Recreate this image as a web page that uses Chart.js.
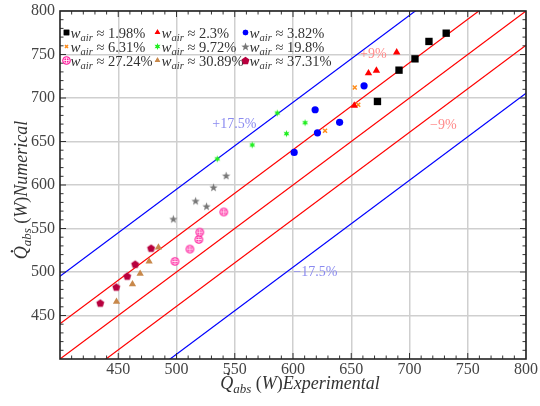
<!DOCTYPE html>
<html>
<head>
<meta charset="UTF-8">
<title>Qabs numerical vs experimental</title>
<script src="https://cdn.jsdelivr.net/npm/chart.js@4.4.0/dist/chart.umd.min.js"></script>
<style>
  body { margin: 0; background: #fff; }
  #wrap { width: 540px; height: 406px; }
</style>
</head>
<body>
<div id="wrap"><canvas id="chart"></canvas></div>
<script>
// air fractions (legend)
const airLabels = ['1.98%', '2.3%', '3.82%', '6.31%', '9.72%', '19.8%', '27.24%', '30.89%', '37.31%'];

// experimental (x) and numerical (y) heat absorbed, W
const exp198 = [672.5, 691, 704.7, 716.7, 731.5];
const num198 = [696, 732, 745, 765, 774.5];
const exp23 = [652.6, 664.8, 671.6, 689];
const num23 = [691.4, 728.5, 731.5, 752.6];
const exp382 = [601, 619, 621, 640, 661];
const num382 = [637.5, 686.5, 660, 672, 714];
const exp631 = [627.5, 640, 653, 656];
const num631 = [662.4, 672, 712, 692.2];
const exp972 = [535, 565, 586.5, 594.4, 610.4];
const num972 = [630, 646, 682.7, 659, 671.6];
const exp198b = [497.3, 516.4, 525.8, 531.8, 542.6];
const num198b = [561, 581.8, 575.6, 597.4, 610.8];
const exp2724 = [498.7, 511.5, 519.2, 520, 540.6];
const num2724 = [512.2, 526.3, 537.4, 545.8, 569];
const exp3089 = [448.5, 462.2, 468.8, 476.5, 484.5];
const num3089 = [466, 486, 498, 512.2, 528.2];
const exp3731 = [434.6, 448.3, 457.7, 464.5, 478.2];
const num3731 = [464.3, 482.7, 495.3, 509, 527.4];

// deviation lines y = x + offset
const bandOffsets = [95, 40.5, 0, -39.5, -94.5];
const bandColors = ['#0000ff', '#ff0000', '#ff0000', '#ff0000', '#0000ff'];
const bandTexts = ['+17.5%', '+9%', '\u221217.5%', '\u22129%'];
const bandTextX = [549.6, 669, 619.2, 729];
const bandTextY = [670, 750.3, 500, 669];
const bandTextColors = ['#8a8af0', '#ff8a8a', '#8a8af0', '#ff8a8a'];

const axisMin = 400, axisMax = 800;
const tickLabels = [450, 500, 550, 600, 650, 700, 750, 800];

function marker(size, draw) {
  const c = document.createElement('canvas');
  c.width = size; c.height = size;
  const g = c.getContext('2d');
  draw(g, size / 2);
  return c;
}
const starGray = marker(11, function (g, m) {
  g.fillStyle = '#777';
  g.beginPath();
  for (let i = 0; i < 10; i++) {
    const r = i % 2 ? 1.8 : 4.4;
    const a = -Math.PI / 2 + i * Math.PI / 5;
    g.lineTo(m + r * Math.cos(a), m + 0.5 + r * Math.sin(a));
  }
  g.closePath(); g.fill();
});
const plusPink = marker(11, function (g, m) {
  g.fillStyle = '#ff1a9c';
  g.beginPath(); g.arc(m, m, 4.3, 0, Math.PI * 2); g.fill();
  g.strokeStyle = '#ffffff'; g.lineWidth = 0.8;
  g.beginPath(); g.arc(m, m, 2.8, 0, Math.PI * 2); g.stroke();
  g.beginPath(); g.moveTo(m - 2.8, m); g.lineTo(m + 2.8, m); g.moveTo(m, m - 2.8); g.lineTo(m, m + 2.8); g.stroke();
});
const pentaRed = marker(11, function (g, m) {
  g.fillStyle = '#b8003e';
  g.beginPath();
  for (let i = 0; i < 5; i++) {
    const a = -Math.PI / 2 + i * 2 * Math.PI / 5;
    g.lineTo(m + 4.2 * Math.cos(a), m + 0.4 + 4.2 * Math.sin(a));
  }
  g.closePath(); g.fill();
});
const starGreen = marker(9, function (g, m) {
  g.fillStyle = '#22ee22';
  g.beginPath();
  for (let i = 0; i < 12; i++) {
    const r = i % 2 ? 1.6 : 3.4;
    const a = -Math.PI / 2 + i * Math.PI / 6;
    g.lineTo(m + r * Math.cos(a), m + r * Math.sin(a));
  }
  g.closePath(); g.fill();
});

function pts(xs, ys) { return xs.map(function (v, i) { return { x: v, y: ys[i] }; }); }

const seriesX = [exp198, exp23, exp382, exp631, exp972, exp198b, exp2724, exp3089, exp3731];
const seriesY = [num198, num23, num382, num631, num972, num198b, num2724, num3089, num3731];
const styles = [
  { pointStyle: 'rect', radius: 5.2, color: '#000000', border: 0 },
  { pointStyle: 'triangle', radius: 4.3, color: '#ff0000', border: 0 },
  { pointStyle: 'circle', radius: 3.6, color: '#0000ff', border: 0 },
  { pointStyle: 'crossRot', radius: 2.8, color: '#ff8c1a', border: 1.5 },
  { pointStyle: starGreen, radius: 4, color: '#22ee22', border: 0 },
  { pointStyle: starGray, radius: 5, color: '#777777', border: 0 },
  { pointStyle: plusPink, radius: 5, color: '#ff1a9c', border: 0 },
  { pointStyle: 'triangle', radius: 4.2, color: '#c8884a', border: 0 },
  { pointStyle: pentaRed, radius: 5, color: '#b8003e', border: 0 }
];

const datasets = [];
bandOffsets.forEach(function (off, i) {
  datasets.push({
    type: 'line', data: [{ x: axisMin - 100, y: axisMin - 100 + off }, { x: axisMax + 100, y: axisMax + 100 + off }],
    borderColor: bandColors[i], borderWidth: 1.2, pointRadius: 0, fill: false, order: 10
  });
});
seriesX.forEach(function (xs, i) {
  const s = styles[i];
  datasets.push({
    type: 'scatter', label: airLabels[i], data: pts(xs, seriesY[i]),
    pointStyle: s.pointStyle, pointRadius: s.radius,
    backgroundColor: s.color, borderColor: s.color, borderWidth: s.border, order: 1
  });
});

const serif = '"Liberation Serif", "DejaVu Serif", serif';

function drawRuns(ctx, runs, x, y, align) {
  let w = 0;
  runs.forEach(function (r) { ctx.font = r.font; r.w = ctx.measureText(r.t).width; w += r.w; });
  let cx = align === 'center' ? x - w / 2 : x;
  runs.forEach(function (r) {
    ctx.font = r.font;
    ctx.fillText(r.t, cx, y + (r.dy || 0));
    if (r.dot) {
      ctx.beginPath(); ctx.arc(cx + r.w * 0.62, y - 15, 1.2, 0, Math.PI * 2); ctx.fill();
    }
    cx += r.w;
  });
}
function qRuns(rest) {
  return [
    { t: 'Q', font: 'italic 18px ' + serif, dot: true },
    { t: 'abs', font: 'italic 13px ' + serif, dy: 4 },
    { t: ' (', font: '18px ' + serif },
    { t: 'W', font: 'italic 18px ' + serif },
    { t: ')', font: '18px ' + serif },
    { t: rest, font: 'italic 18px ' + serif }
  ];
}

function noPad(s) { s.paddingLeft = 0; s.paddingRight = 0; s.paddingTop = 0; s.paddingBottom = 0; }

const decor = {
  id: 'decor',
  afterDatasetsDraw: function (chart) {
    const ctx = chart.ctx, a = chart.chartArea, xs = chart.scales.x, ys = chart.scales.y;
    ctx.save();
    // deviation labels
    ctx.font = '14px ' + serif; ctx.textAlign = 'center'; ctx.textBaseline = 'middle';
    bandTexts.forEach(function (t, i) {
      ctx.fillStyle = bandTextColors[i];
      ctx.fillText(t, xs.getPixelForValue(bandTextX[i]), ys.getPixelForValue(bandTextY[i]));
    });
    // frame and inward ticks
    ctx.strokeStyle = '#333'; ctx.lineWidth = 1;
    for (let v = axisMin + 10; v < axisMax; v += 10) {
      const len = v % 50 === 0 ? 6 : 3.5;
      const px = xs.getPixelForValue(v), py = ys.getPixelForValue(v);
      ctx.beginPath();
      ctx.moveTo(px, a.bottom); ctx.lineTo(px, a.bottom - len);
      ctx.moveTo(px, a.top); ctx.lineTo(px, a.top + len);
      ctx.moveTo(a.left, py); ctx.lineTo(a.left + len, py);
      ctx.moveTo(a.right, py); ctx.lineTo(a.right - len, py);
      ctx.stroke();
    }
    ctx.lineWidth = 1.6; ctx.strokeStyle = '#222';
    ctx.strokeRect(a.left, a.top, a.right - a.left, a.bottom - a.top);
    // legend, placed relative to the plot's top edge
    ctx.textAlign = 'left'; ctx.textBaseline = 'alphabetic';
    const colX = [66.5, 157.5, 245.5], rowY = [21.5, 35.5, 49.5];
    airLabels.forEach(function (lab, i) {
      const mx = colX[i % 3], my = a.top + rowY[Math.floor(i / 3)];
      const s = styles[i];
      ctx.fillStyle = s.color; ctx.strokeStyle = s.color;
      Chart.helpers.drawPoint(ctx, { pointStyle: s.pointStyle, radius: typeof s.pointStyle === 'string' ? s.radius * 0.75 : s.radius, rotation: 0, borderWidth: s.border || 0 }, mx, my);
      if (typeof s.pointStyle === 'string' && s.pointStyle !== 'crossRot') ctx.fill();
      ctx.fillStyle = '#333';
      drawRuns(ctx, [
        { t: 'w', font: 'italic 15px ' + serif },
        { t: 'air', font: 'italic 10.5px ' + serif, dy: 3.5 },
        { t: ' \u2248 ' + lab, font: '14.5px ' + serif }
      ], mx + 4, my + 5, 'left');
    });
    // axis titles
    ctx.fillStyle = '#333';
    drawRuns(ctx, qRuns('Experimental'), 300, 389, 'center');
    ctx.translate(27, 190); ctx.rotate(-Math.PI / 2);
    drawRuns(ctx, qRuns('Numerical'), 0, 0, 'center');
    ctx.restore();
  }
};

new Chart(document.getElementById('chart'), {
  type: 'scatter',
  data: { datasets: datasets },
  options: {
    responsive: true, maintainAspectRatio: false, animation: false,
    layout: { padding: { top: 11, right: 14, left: 0, bottom: 0 } },
    plugins: { legend: { display: false }, tooltip: { enabled: false } },
    scales: {
      x: {
        type: 'linear', min: axisMin, max: axisMax,
        afterFit: function (s) { s.height = 47; noPad(s); },
        afterBuildTicks: function (s) { s.ticks = tickLabels.map(function (v) { return { value: v }; }); },
        grid: { color: '#cfcfcf', lineWidth: 1.5, drawTicks: false },
        border: { display: false },
        ticks: { padding: 1, color: '#444', font: { family: serif, size: 16 }, maxRotation: 0 }
      },
      y: {
        type: 'linear', min: axisMin, max: axisMax,
        afterFit: function (s) { s.width = 60; noPad(s); },
        afterBuildTicks: function (s) { s.ticks = tickLabels.map(function (v) { return { value: v }; }); },
        grid: { color: '#cfcfcf', lineWidth: 1.5, drawTicks: false },
        border: { display: false },
        ticks: { padding: 5, color: '#444', font: { family: serif, size: 16 } }
      }
    }
  },
  plugins: [decor]
});
</script>
</body>
</html>
